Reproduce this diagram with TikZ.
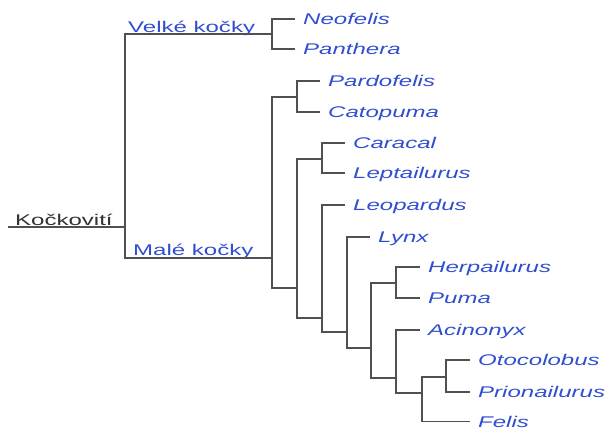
\documentclass[tikz,border=0pt]{standalone}
\usepackage{fontspec}
\newfontfamily\lf[FakeStretch=1.55]{Liberation Sans}
\definecolor{taxblue}{RGB}{48,78,208}
\definecolor{linegray}{RGB}{80,80,80}
\definecolor{rootgray}{RGB}{50,50,50}
\begin{document}
\begin{tikzpicture}[x=1pt,y=-1pt,
  branch/.style={draw=linegray,line width=1.3pt},
  leaf/.style={anchor=west,inner xsep=8pt,inner ysep=0pt,text height=11.1pt,text depth=0pt,
    font=\lf\itshape\fontsize{15.5}{18}\selectfont,text=taxblue},
  grp/.style={anchor=base west,inner sep=0pt,font=\lf\fontsize{15.5}{18}\selectfont,text=taxblue},
  rootlab/.style={anchor=base west,inner sep=0pt,font=\lf\fontsize{15.5}{18}\selectfont,text=rootgray}]
\useasboundingbox (0,0) rectangle (611,429);
% internal junctions
\coordinate (r0) at (8,227);
\coordinate (root) at (125,227);
\coordinate (big) at (272,34);
\coordinate (small) at (272,258);
\coordinate (pc) at (297,97);
\coordinate (A) at (297,288);
\coordinate (cl) at (322,159);
\coordinate (B) at (322,318);
\coordinate (C) at (347,332);
\coordinate (D) at (371,348);
\coordinate (hp) at (396,283);
\coordinate (E) at (396,378);
\coordinate (F) at (422,393);
\coordinate (op) at (446,377);
% labels
\node[rootlab] (koc) at (15,225) {Kočkovití};
\node[grp] (velke) at (128,32) {Velké kočky};
\node[grp] (male) at (133,255) {Malé kočky};
% leaves
\node[leaf] (neo) at (295,19) {Neofelis};
\node[leaf] (pan) at (295,49) {Panthera};
\node[leaf] (par) at (320,81) {Pardofelis};
\node[leaf] (cat) at (320,112) {Catopuma};
\node[leaf] (car) at (345,143) {Caracal};
\node[leaf] (lep) at (345,173) {Leptailurus};
\node[leaf] (leo) at (345,205) {Leopardus};
\node[leaf] (lyn) at (370,237) {Lynx};
\node[leaf] (her) at (420,267) {Herpailurus};
\node[leaf] (pum) at (420,298) {Puma};
\node[leaf] (aci) at (420,330) {Acinonyx};
\node[leaf] (oto) at (470,360) {Otocolobus};
\node[leaf] (pri) at (470,392) {Prionailurus};
\node[leaf] (fel) at (470,421.5) {Felis};
% branches
\draw[branch] (r0) -- (root);
\draw[branch] (root) |- (big);
\draw[branch] (root) |- (small);
\draw[branch] (big) |- (neo.west);
\draw[branch] (big) |- (pan.west);
\draw[branch] (small) |- (pc);
\draw[branch] (small) |- (A);
\draw[branch] (pc) |- (par.west);
\draw[branch] (pc) |- (cat.west);
\draw[branch] (A) |- (cl);
\draw[branch] (A) |- (B);
\draw[branch] (cl) |- (car.west);
\draw[branch] (cl) |- (lep.west);
\draw[branch] (B) |- (leo.west);
\draw[branch] (B) |- (C);
\draw[branch] (C) |- (lyn.west);
\draw[branch] (C) |- (D);
\draw[branch] (D) |- (hp);
\draw[branch] (D) |- (E);
\draw[branch] (hp) |- (her.west);
\draw[branch] (hp) |- (pum.west);
\draw[branch] (E) |- (aci.west);
\draw[branch] (E) |- (F);
\draw[branch] (F) |- (op);
\draw[branch] (F) |- (fel.west);
\draw[branch] (op) |- (oto.west);
\draw[branch] (op) |- (pri.west);
\end{tikzpicture}
\end{document}
